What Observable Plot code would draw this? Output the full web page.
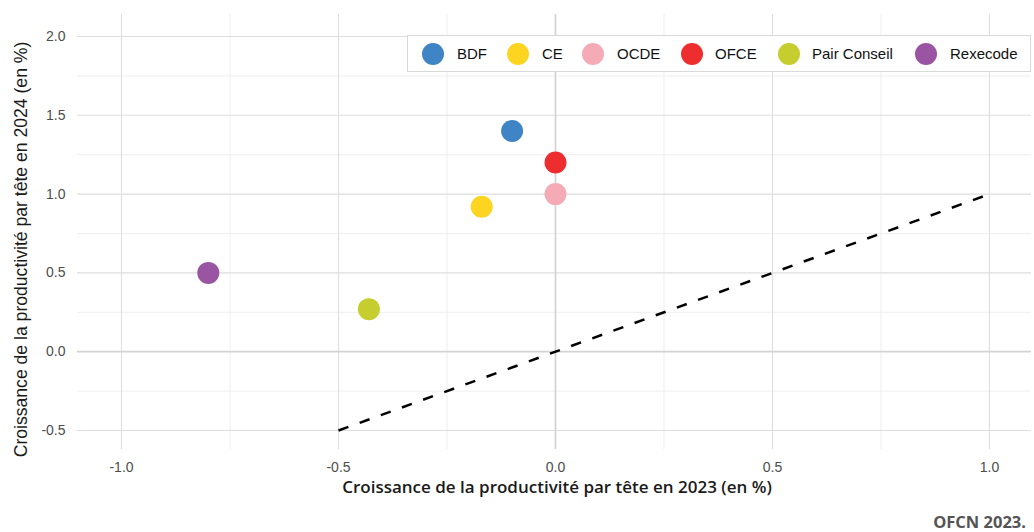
<!DOCTYPE html>
<html>
<head>
<meta charset="utf-8">
<script src="https://cdn.jsdelivr.net/npm/d3@7"></script>
<script src="https://cdn.jsdelivr.net/npm/@observablehq/plot@0.6"></script>
<style>
  body { margin: 0; background: #fff; }
  #wrap { position: relative; width: 1034px; height: 532px; overflow: hidden; }
  #legend { position: absolute; left: 407px; top: 35px; width: 622px; height: 35px;
            border: 1px solid #d9d9d9; background: #fff; box-sizing: content-box; }
  .lg-dot { position: absolute; width: 22px; height: 22px; border-radius: 50%; }
  .lg-txt { position: absolute; font-family: "Liberation Sans", Arial, sans-serif; font-size: 15px;
            color: #111; line-height: 18px; white-space: nowrap; }
  #caption { position: absolute; right: 8px; top: 513px; font-family: "Open Sans", sans-serif;
             font-weight: 700; font-size: 16.5px; line-height: 18px; color: #555; }
</style>
</head>
<body>
<div id="wrap"></div>
<script>
// ---- data ----
const institutions = ["BDF", "CE", "OCDE", "OFCE", "Pair Conseil", "Rexecode"];
const growth2023 = [-0.1, -0.17, 0.0, 0.0, -0.43, -0.8];
const growth2024 = [1.4, 0.92, 1.0, 1.2, 0.27, 0.5];
const colors = ["#3f84c5", "#fdd521", "#f5abb5", "#ee2e2e", "#c5cd2f", "#9a55a2"];
const diagonal2023 = [-0.5, 1.0];
const diagonal2024 = [-0.5, 1.0];
const xTicks = [-1.0, -0.5, 0.0, 0.5, 1.0];
const xMinorTicks = [-0.75, -0.25, 0.25, 0.75];
const yTicks = [-0.5, 0.0, 0.5, 1.0, 1.5, 2.0];
const yMinorTicks = [-0.25, 0.25, 0.75, 1.25, 1.75];
const xTitle = "Croissance de la productivité par tête en 2023 (en %)";
const yTitle = "Croissance de la productivité par tête en 2024 (en %)";
const captionText = "OFCN 2023.";

const points = institutions.map((name, i) => ({ name, x: growth2023[i], y: growth2024[i] }));
const diagonal = diagonal2023.map((x, i) => ({ x, y: diagonal2024[i] }));
const fmt = d => d.toFixed(1);

const plot = Plot.plot({
  width: 1034,
  height: 505,
  marginTop: 14,
  marginBottom: 56,
  marginLeft: 77,
  marginRight: 3,
  x: { domain: [-1.1014, 1.0968] },
  y: { domain: [-0.6206, 2.1396] },
  color: { domain: institutions, range: colors },
  style: { fontFamily: "'Liberation Sans', Arial, sans-serif", fontSize: "14px", color: "#4d4d4d", background: "transparent" },
  marks: [
    Plot.ruleX(xMinorTicks, { stroke: "#eeeeee", strokeWidth: 1 }),
    Plot.ruleY(yMinorTicks, { stroke: "#eeeeee", strokeWidth: 1 }),
    Plot.ruleX(xTicks.filter(d => d !== 0), { stroke: "#dedede", strokeWidth: 1.1 }),
    Plot.ruleY(yTicks.filter(d => d !== 0), { stroke: "#dedede", strokeWidth: 1.1 }),
    Plot.ruleX([0], { stroke: "#d3d3d3", strokeWidth: 1.7 }),
    Plot.ruleY([0], { stroke: "#d3d3d3", strokeWidth: 1.7 }),
    Plot.axisX(xTicks, { tickSize: 0, tickPadding: 13, tickFormat: fmt, label: null, fill: "#4d4d4d" }),
    Plot.axisY(yTicks, { tickSize: 0, tickPadding: 12, tickFormat: fmt, label: null, fill: "#4d4d4d" }),
    Plot.line(diagonal, { x: "x", y: "y", stroke: "#000", strokeWidth: 2.5, strokeDasharray: "10.5,12", strokeLinecap: "butt" }),
    Plot.dot(points, { x: "x", y: "y", r: 11, fill: "name", stroke: "none", fillOpacity: 1 })
  ]
});

const svg = d3.select(plot);
svg.append("text")
  .attr("x", 557).attr("y", 493)
  .attr("text-anchor", "middle")
  .style("font-family", "'Open Sans', sans-serif")
  .style("font-weight", 600)
  .style("font-size", "17px")
  .style("fill", "#1a1a1a")
  .text(xTitle);
svg.append("text")
  .attr("transform", "translate(27,249.5) rotate(-90)")
  .attr("text-anchor", "middle")
  .style("font-family", "'Liberation Sans', Arial, sans-serif")
  .style("font-size", "17.6px")
  .style("fill", "#1a1a1a")
  .text(yTitle);

const wrap = document.getElementById("wrap");
wrap.appendChild(plot);

// legend
const legend = document.createElement("div");
legend.id = "legend";
const dotX = [433, 518, 593, 692, 789, 926];
const txtX = [457, 542, 617, 715, 812, 950];
institutions.forEach((name, i) => {
  const dot = document.createElement("div");
  dot.className = "lg-dot";
  dot.style.left = (dotX[i] - 11 - 408) + "px";
  dot.style.top = (54 - 11 - 36) + "px";
  dot.style.background = colors[i];
  legend.appendChild(dot);
  const t = document.createElement("div");
  t.className = "lg-txt";
  t.style.left = (txtX[i] - 408) + "px";
  t.style.top = (54 - 9 - 36) + "px";
  t.textContent = name;
  legend.appendChild(t);
});
wrap.appendChild(legend);

const cap = document.createElement("div");
cap.id = "caption";
cap.textContent = captionText;
wrap.appendChild(cap);
</script>
</body>
</html>
